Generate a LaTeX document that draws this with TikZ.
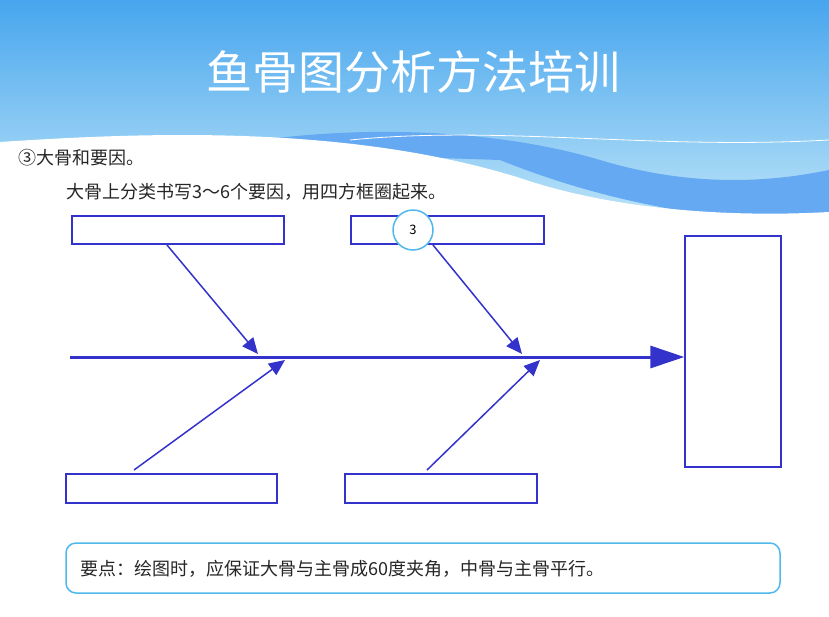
\documentclass[tikz,border=0pt]{standalone}
\usepackage{fontspec}
\setmainfont{Noto Sans CJK SC}
\usetikzlibrary{arrows.meta}
\definecolor{bone}{HTML}{3333CC}
\definecolor{cyanb}{HTML}{4FB8EC}
\tikzset{box/.style={draw=bone,line width=1.3pt},
bonel/.style={draw=bone,line width=1.5pt,-{Triangle[length=16pt,width=14pt]}},
txt/.style={anchor=west,inner sep=0pt,font=\fontsize{18pt}{20pt}\selectfont,text=black!85}}
\begin{document}
\begin{tikzpicture}[x=1pt,y=-1pt]
\useasboundingbox (0,0) rectangle (829,616);
\fill[white] (0,0) rectangle (829,616);
\shade[top color=cyanb!90!blue,bottom color=cyanb!35] (0,0) rectangle (829,230);
\fill[cyanb!80!blue!80] (200,150) .. controls (350,120) and (500,130) .. (600,160) .. controls (700,190) and (780,180) .. (829,170) -- (829,225) .. controls (700,220) and (600,200) .. (500,160) -- cycle;
\fill[white] (0,142) .. controls (150,132) and (350,125) .. (520,178) .. controls (620,212) and (740,217) .. (829,212) -- (829,240) -- (0,240) -- cycle;
\draw[white,line width=0.8pt] (350,140) .. controls (500,125) and (650,150) .. (829,140);
\node[text=white,font=\fontsize{46pt}{50pt}\selectfont] (title) at (413,72) {鱼骨图分析方法培训};
\node[txt] (l1) at (18,158) {③大骨和要因。};
\node[txt] (l2) at (66,192) {大骨上分类书写3～6个要因，用四方框圈起来。};
\node[box,minimum width=212pt,minimum height=28pt] (tl) at (178,230) {};
\node[box,minimum width=193pt,minimum height=28pt] (tm) at (447.5,230) {};
\node[box,minimum width=96pt,minimum height=231pt] (r) at (733,351.5) {};
\node[box,minimum width=211pt,minimum height=29pt] (bl) at (171.5,488.5) {};
\node[box,minimum width=192pt,minimum height=29pt] (bm) at (441,488.5) {};
\node[circle,draw=cyanb,line width=1.5pt,fill=white,minimum size=40pt,inner sep=0pt,font=\fontsize{13pt}{14pt}\selectfont] (c) at (413,230) {3};
\coordinate (s0) at (70,357);
\draw[draw=bone,line width=3pt,-{Triangle[length=34pt,width=22pt]}] (s0) -- (s0 -| r.west);
\coordinate (a1) at (167,245); \coordinate (a2) at (258,354);
\coordinate (b1) at (433,245); \coordinate (b2) at (522,354);
\coordinate (c1) at (134,470); \coordinate (c2) at (285,360);
\coordinate (d1) at (427,470); \coordinate (d2) at (540,360);
\draw[bonel] (a1) -- (a2);
\draw[bonel] (b1) -- (b2);
\draw[bonel] (c1) -- (c2);
\draw[bonel] (d1) -- (d2);
\node[draw=cyanb,line width=1.5pt,rounded corners=10pt,minimum width=714pt,minimum height=50pt] (note) at (423,568) {};
\node[txt] (nt) at (80,569) {要点：绘图时，应保证大骨与主骨成60度夹角，中骨与主骨平行。};
\end{tikzpicture}
\end{document}
